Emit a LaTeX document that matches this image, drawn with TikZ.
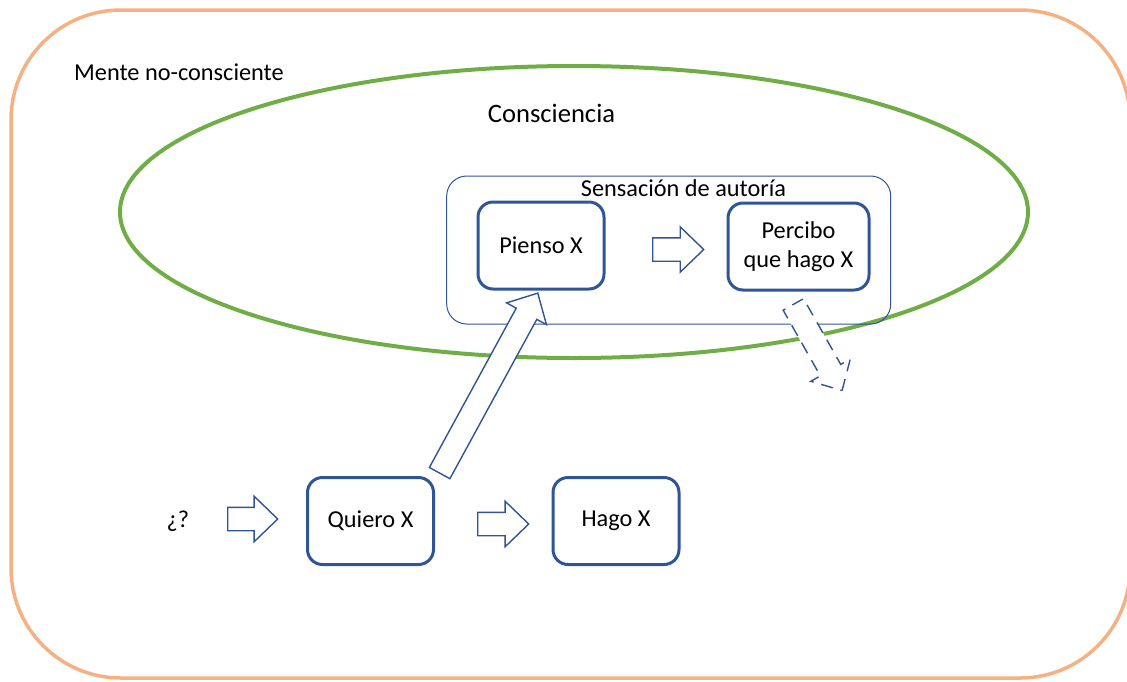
\documentclass[tikz,border=0pt]{standalone}
\usepackage{fontspec}
\setmainfont{Carlito}
\usetikzlibrary{shapes.arrows}

\definecolor{MindOrange}{HTML}{F4B183}
\definecolor{ConsGreen}{HTML}{70AD47}
\definecolor{BoxBlue}{HTML}{2F5597}

\tikzset{
  stepbox/.style={draw=BoxBlue, line width=3pt, rounded corners=15pt,
    minimum width=126pt, minimum height=87pt, align=center, inner sep=0pt},
  fatarrow/.style={single arrow, draw=BoxBlue, fill=white, line width=1.4pt,
    inner xsep=0pt, inner ysep=11pt, single arrow head extend=11pt,
    single arrow tip angle=88, anchor=tail}
}

\begin{document}
\begin{tikzpicture}[x=1pt, y=-1pt, font=\fontsize{24.3}{29.5}\selectfont]

            \useasboundingbox (0,0) rectangle (1127,681);

            % mente no-consciente y consciencia
            \draw[MindOrange, line width=3.5pt, rounded corners=110pt] (11,10) rectangle (1130,678);

            \draw[ConsGreen, line width=4pt] (574,212) ellipse [x radius=454, y radius=146];

            \node[anchor=base west, inner sep=0pt] (mente) at (74,80) {Mente no-consciente};
            \node[anchor=base, inner sep=0pt, font=\fontsize{26.6}{32}\selectfont] (consciencia) at (551.5,122) {Consciencia};

            % sensacion de autoria
            \node[draw=BoxBlue, line width=1pt, rounded corners=20pt,
                  minimum width=444pt, minimum height=148pt] (autoria) at (668.7,250) {};
            \node[anchor=base, inner sep=0pt] (autoriatxt) at (683.5,196) {Sensación de autoría};

            \node[stepbox] (pienso) at (541,245.5) {Pienso X};
            \node[stepbox, minimum width=141pt] (percibo) at (798.5,246.5) {Percibo\\que hago X};

            % lo no consciente
            \node (pregunta) at (178,521) {¿?};
            \node[stepbox] (quiero) at (370.5,521) {Quiero X};
            \node[stepbox] (hago) at (616,521) {Hago X};

            % flechas
            \node[fatarrow, minimum height=50pt] (fpregunta) at (227,519) {};
            \node[fatarrow, minimum height=51pt] (fquiero) at (477,524) {};
            \node[fatarrow, minimum height=51pt] (fpienso) at (652,249.5) {};
            \node[fatarrow, minimum height=205pt, rotate=61.4] (fsube) at (439.3,473.7) {};
            \node[fatarrow, dash pattern=on 12pt off 8pt, minimum height=99pt,
                  rotate=-60.5] (fbaja) at (793,303.8) {};

\end{tikzpicture}
\end{document}
